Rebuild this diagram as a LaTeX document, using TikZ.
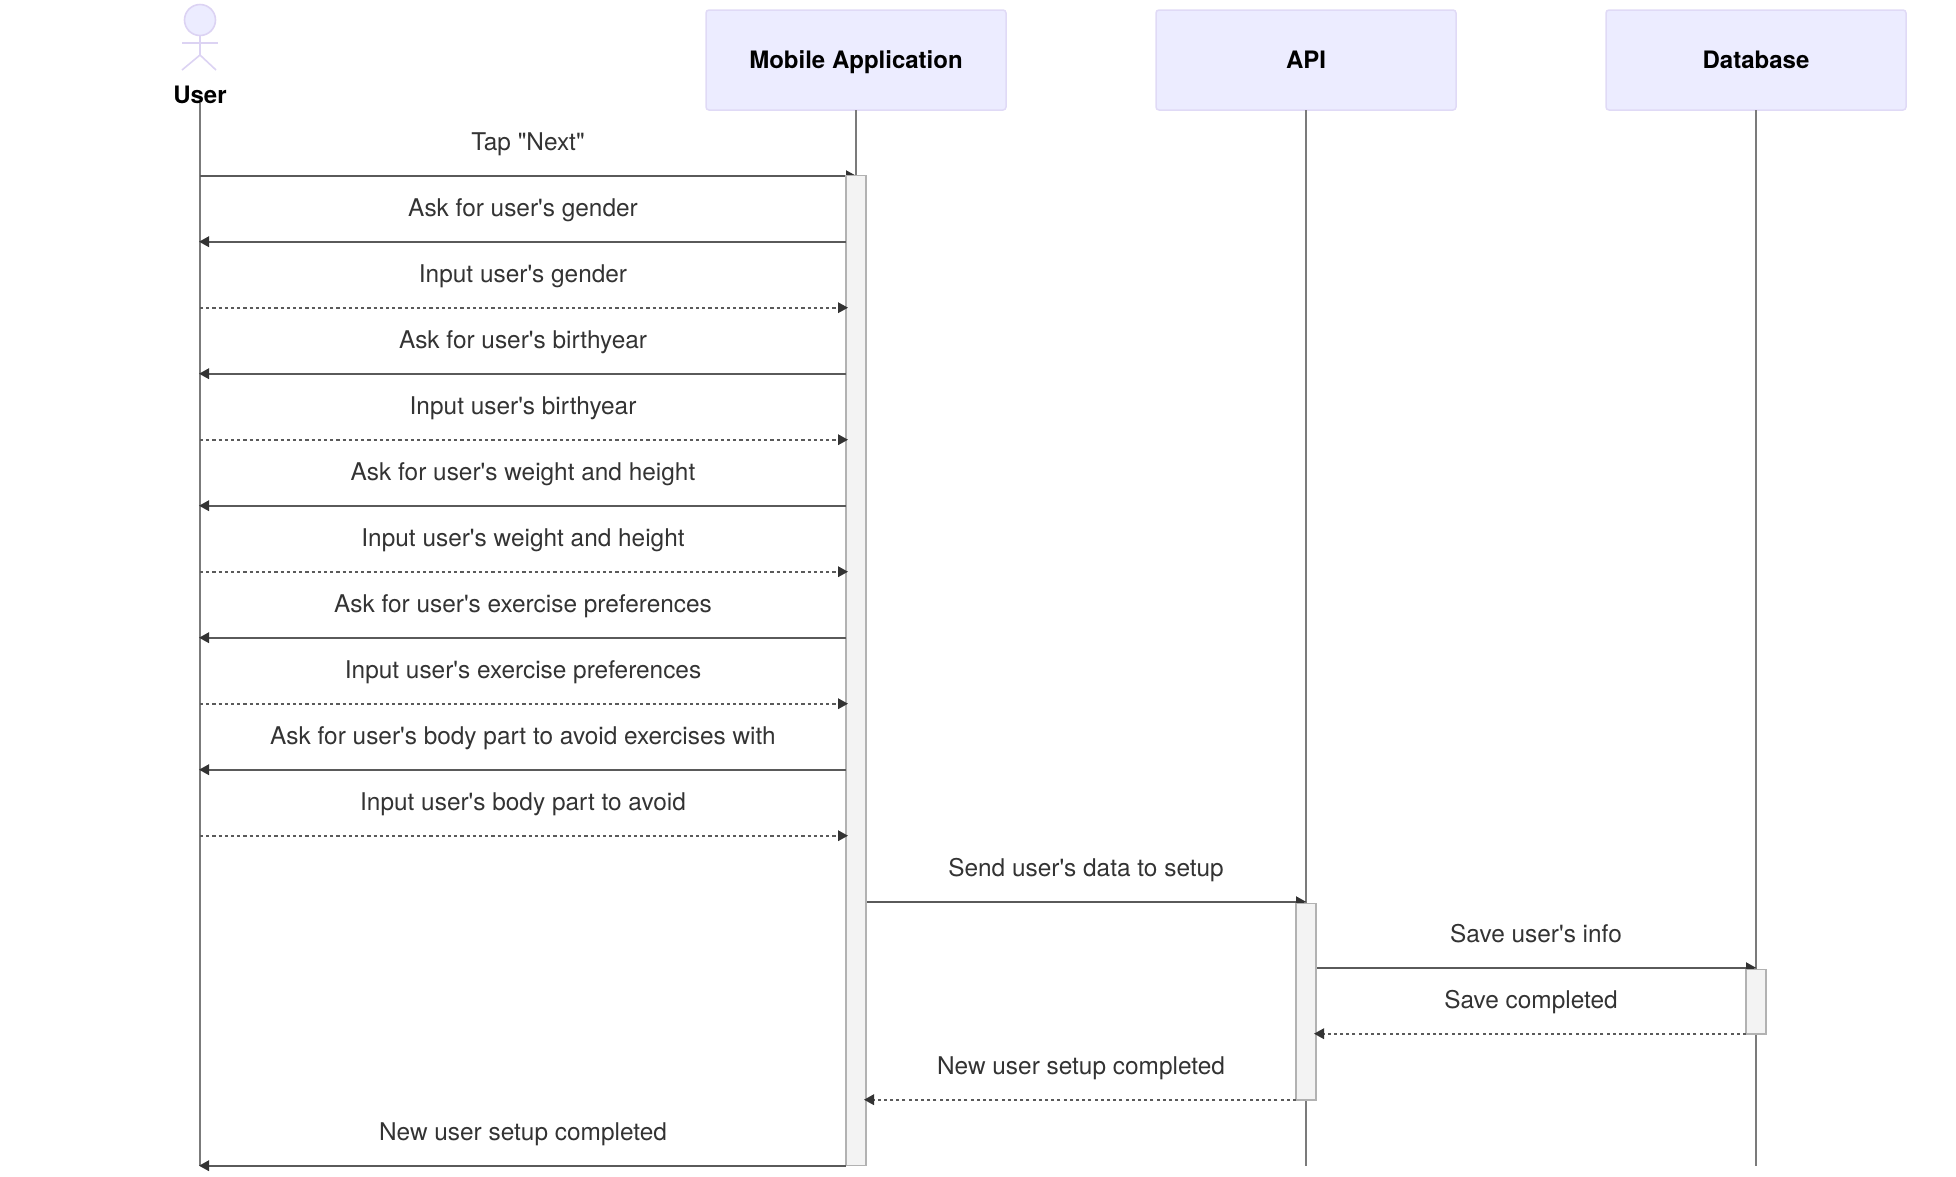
\documentclass[tikz,border=0pt]{standalone}
\usepackage{fontspec}
\setmainfont{TeX Gyre Heros}[Ligatures=TeXOff]
\usetikzlibrary{arrows.meta}
\definecolor{actorfill}{HTML}{ECECFF}
\definecolor{actorline}{HTML}{E0DAF6}
\definecolor{stickline}{HTML}{DCD3F3}
\definecolor{lifeline}{HTML}{7B7B7B}
\definecolor{msgline}{HTML}{5A5A5A}
\definecolor{msgtip}{HTML}{333333}
\definecolor{msgtext}{HTML}{333333}
\definecolor{actfill}{HTML}{F3F3F3}
\definecolor{actline}{HTML}{B2B2B2}
\tikzset{
  x=1pt,y=-1pt,
  actorbox/.style={draw=actorline,fill=actorfill,line width=1.5pt,rounded corners=3pt,minimum width=300pt,minimum height=100pt,inner sep=0pt,outer sep=0pt,text height=20pt,text depth=4pt,font=\fontsize{24}{28}\selectfont\bfseries,text=black},
  actorname/.style={font=\fontsize{24}{28}\selectfont\bfseries,text=black,anchor=base,inner sep=0pt},
  stick/.style={draw=stickline,line width=1.6pt},
  life/.style={draw=lifeline,line width=1.6pt},
  msg/.style={draw=msgline,line width=1.8pt,-{Triangle[length=10pt,width=10.5pt,color=msgtip]},shorten >=-1pt},
  reply/.style={msg,dash pattern=on 3.1pt off 3.1pt,shorten >=-2pt},
  msglabel/.style={font=\fontsize{24.4}{28}\selectfont,text=msgtext,anchor=base,inner sep=0pt},
  activation/.style={draw=actline,fill=actfill,line width=1.5pt,minimum width=20pt,inner sep=0pt,outer sep=0pt,anchor=north},
}
\begin{document}
\begin{tikzpicture}
\useasboundingbox (0,0) rectangle (1956,1176);
% actors
\node[circle,draw=stickline,fill=actorfill,line width=1.6pt,minimum size=31pt,inner sep=0pt] (userhead) at (200,20) {};
\coordinate (armL) at (182,43); \coordinate (armR) at (218,43);
\coordinate (hip) at (200,55); \coordinate (legL) at (182,70); \coordinate (legR) at (216,70);
\draw[stick] (userhead.south) -- (hip);
\draw[stick] (armL) -- (armR);
\draw[stick] (legL) -- (hip) -- (legR);
\node[actorname] (user) at (200,103) {User};
\node[actorbox] (mobile) at (856,60) {Mobile Application};
\node[actorbox] (api) at (1306,60) {API};
\node[actorbox] (db) at (1756,60) {Database};
% lifeline ends
\coordinate (userTop) at (200,103);
\coordinate (userEnd) at (200,1166);
\coordinate (mobileEnd) at (856,1166);
\coordinate (apiEnd) at (1306,1166);
\coordinate (dbEnd) at (1756,1166);
\draw[life] (userTop) -- (userEnd);
\draw[life] (mobile.south) -- (mobileEnd);
\draw[life] (api.south) -- (apiEnd);
\draw[life] (db.south) -- (dbEnd);
% user side points
\foreach \n/\y in {0/175.7,1/241.7,2/307.7,3/373.7,4/439.7,5/505.7,6/571.7,7/637.7,8/703.7,9/769.7,10/835.7,15/1165.7}{
  \coordinate (u\n) at (200,\y);
  \coordinate (m\n) at (846,\y);
}
\coordinate (m0) at (855,175.7);
% mobile right / api / db points
\coordinate (mr11) at (866,901.7); \coordinate (a11) at (1305,901.7);
\coordinate (ar12) at (1316,967.7); \coordinate (d12) at (1755,967.7);
\coordinate (dl13) at (1746,1033.7); \coordinate (ar13) at (1316,1033.7);
\coordinate (al14) at (1296,1099.7); \coordinate (mr14) at (866,1099.7);
% messages that open an activation lie under it
\draw[msg] (u0) -- (m0);
\draw[msg] (mr11) -- (a11);
\draw[msg] (ar12) -- (d12);
% activations
\node[activation,minimum height=990pt] (actM) at (856,175.7) {};
\node[activation,minimum height=196.5pt] (actA) at (1306,903.5) {};
\node[activation,minimum height=64.5pt] (actD) at (1756,969.6) {};
% other messages
\draw[msg] (m1) -- (u1);
\draw[reply] (u2) -- (m2);
\draw[msg] (m3) -- (u3);
\draw[reply] (u4) -- (m4);
\draw[msg] (m5) -- (u5);
\draw[reply] (u6) -- (m6);
\draw[msg] (m7) -- (u7);
\draw[reply] (u8) -- (m8);
\draw[msg] (m9) -- (u9);
\draw[reply] (u10) -- (m10);
\draw[reply] (dl13) -- (ar13);
\draw[reply] (al14) -- (mr14);
\draw[msg] (m15) -- (u15);
% labels
\node[msglabel] (l0) at (528,150.5) {Tap "Next"};
\node[msglabel] (l1) at (523,216.5) {Ask for user's gender};
\node[msglabel] (l2) at (523,282.5) {Input user's gender};
\node[msglabel] (l3) at (523,348.5) {Ask for user's birthyear};
\node[msglabel] (l4) at (523,414.5) {Input user's birthyear};
\node[msglabel] (l5) at (523,480.5) {Ask for user's weight and height};
\node[msglabel] (l6) at (523,546.5) {Input user's weight and height};
\node[msglabel] (l7) at (523,612.5) {Ask for user's exercise preferences};
\node[msglabel] (l8) at (523,678.5) {Input user's exercise preferences};
\node[msglabel] (l9) at (523,744.5) {Ask for user's body part to avoid exercises with};
\node[msglabel] (l10) at (523,810.5) {Input user's body part to avoid};
\node[msglabel] (l11) at (1086,876.5) {Send user's data to setup};
\node[msglabel] (l12) at (1536,942.5) {Save user's info};
\node[msglabel] (l13) at (1531,1008.5) {Save completed};
\node[msglabel] (l14) at (1081,1074.5) {New user setup completed};
\node[msglabel] (l15) at (523,1140.5) {New user setup completed};
\end{tikzpicture}
\end{document}
